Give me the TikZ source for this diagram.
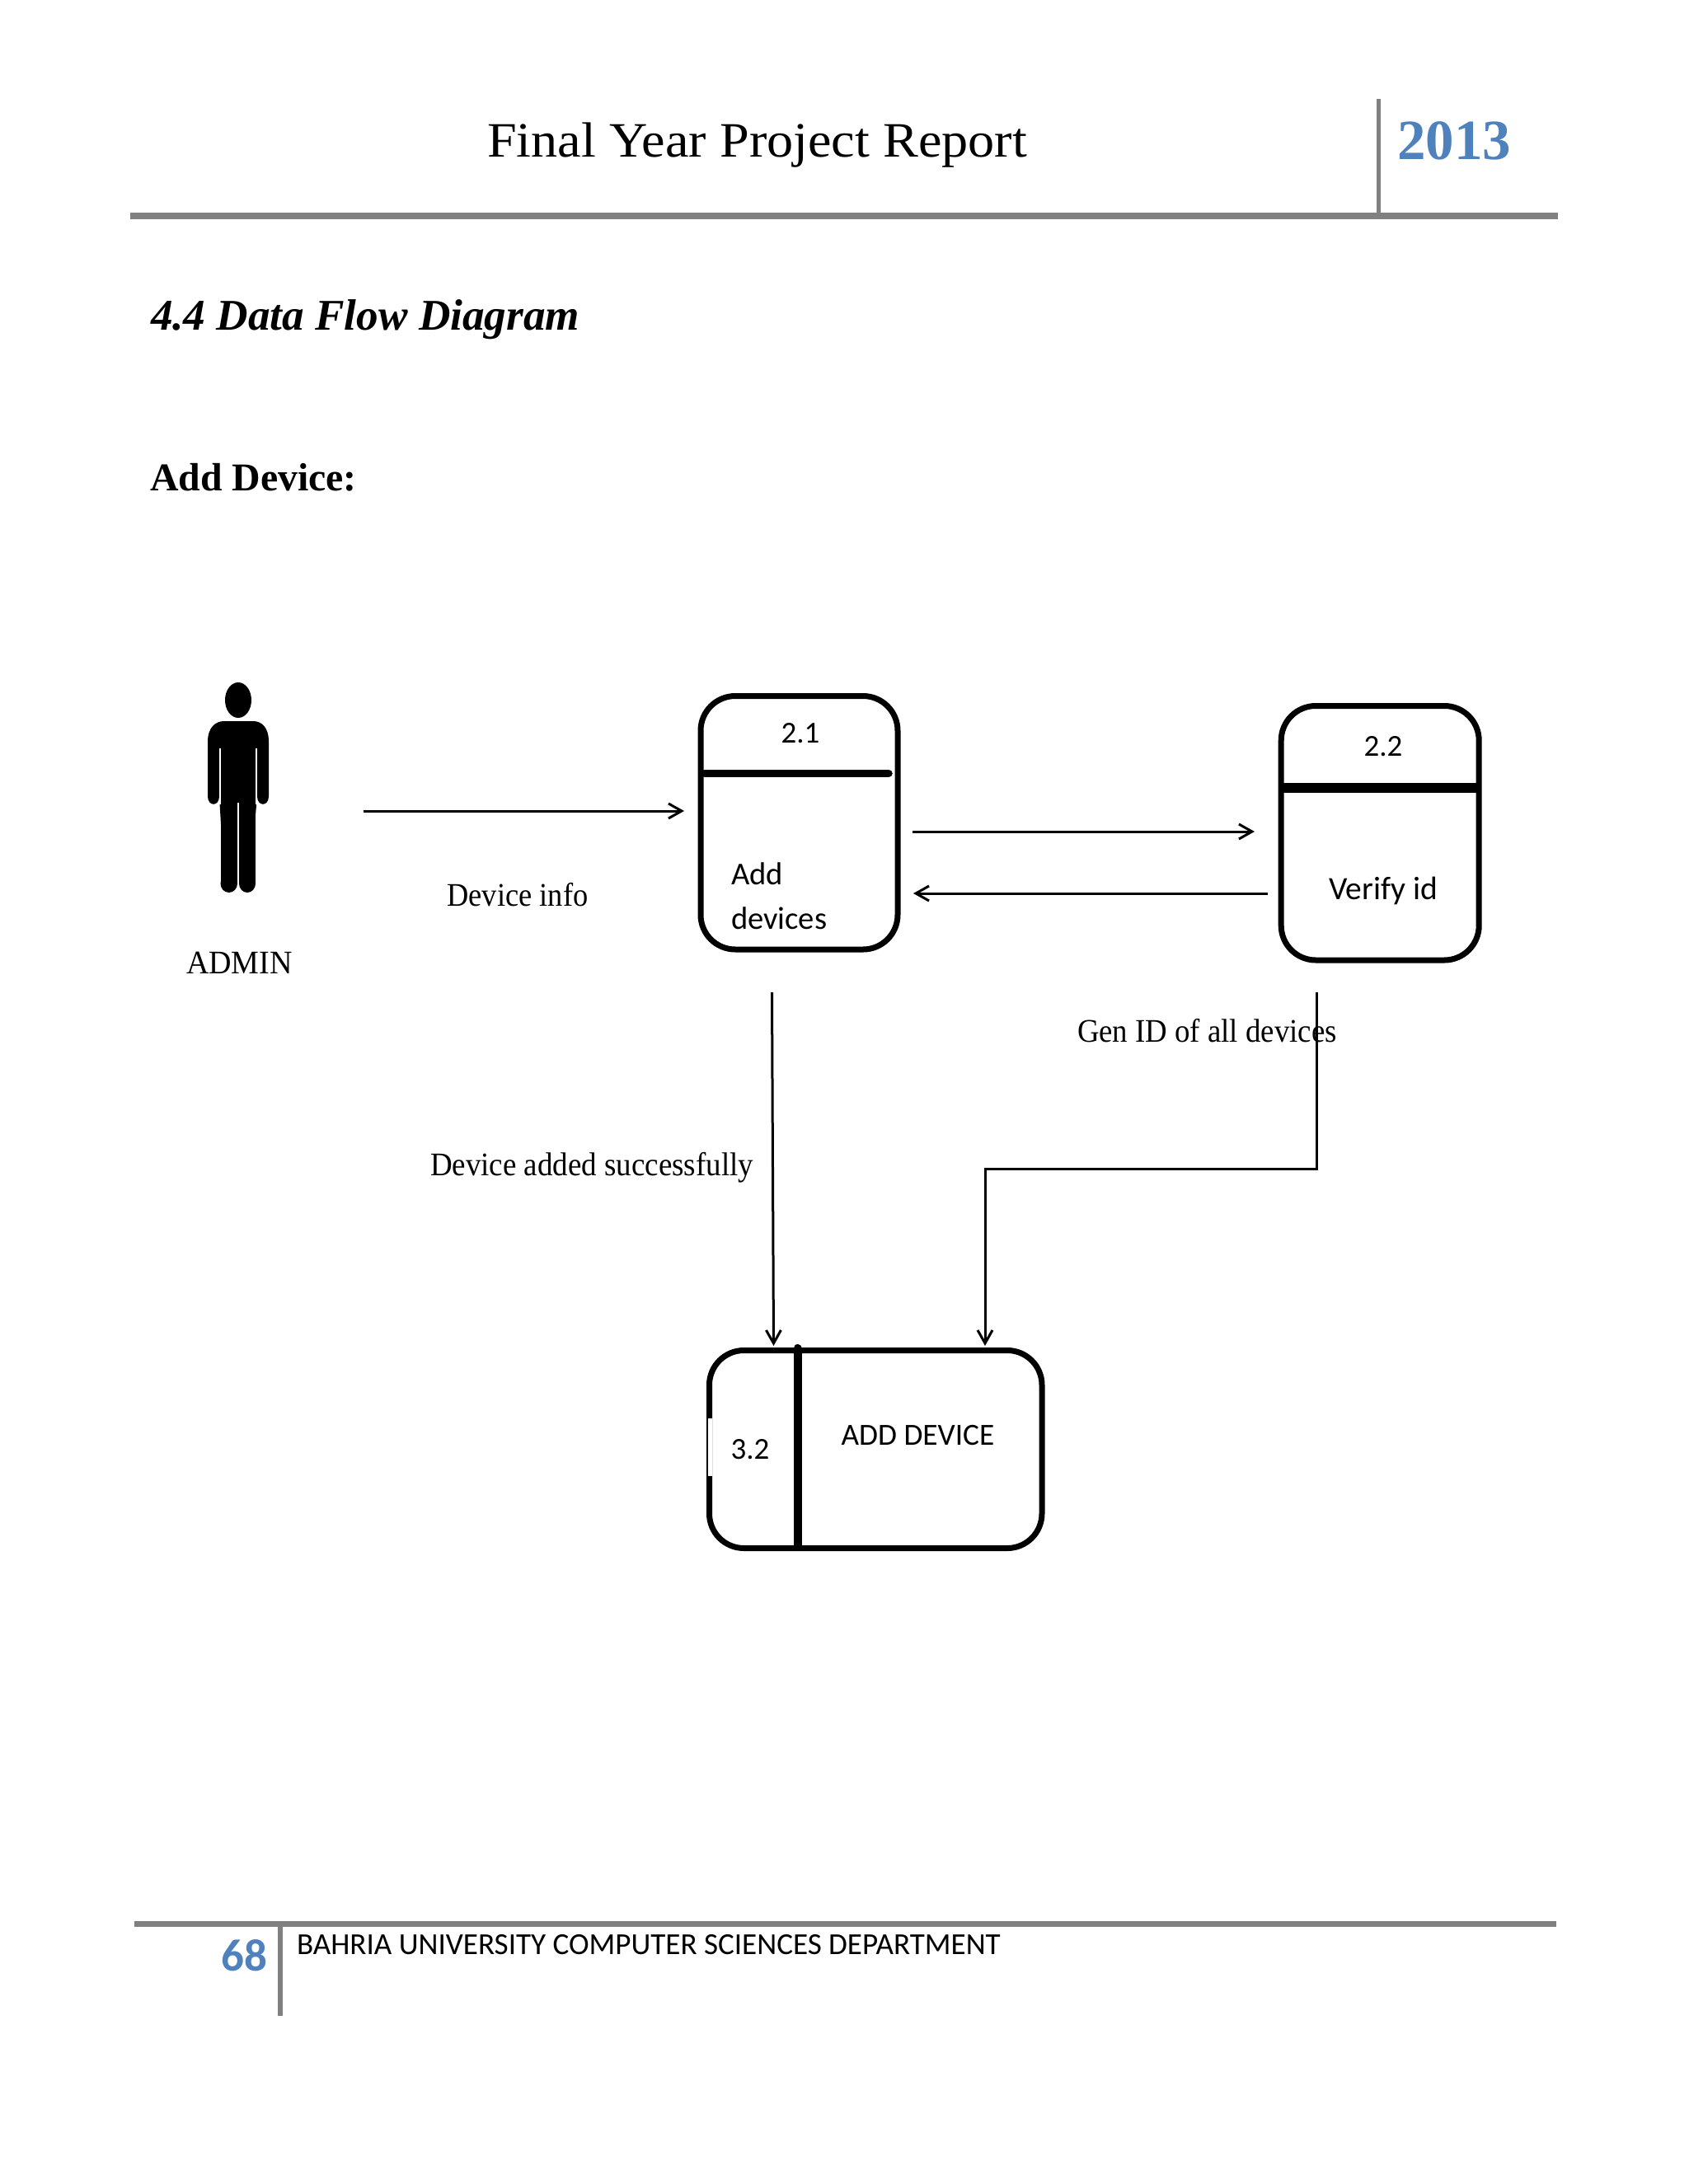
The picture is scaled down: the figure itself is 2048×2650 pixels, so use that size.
\documentclass[tikz,border=0pt]{standalone}
\usepackage{fontspec}
\setmainfont{Liberation Serif}
\newfontfamily\carl{Carlito}
\usetikzlibrary{arrows.meta}
\definecolor{rulegray}{RGB}{128,128,128}
\definecolor{accentblue}{RGB}{79,129,189}
\newcommand{\fs}[1]{\fontsize{#1}{#1}\selectfont}
\tikzset{
  x=1pt,y=-1pt,
  lbl/.style={anchor=base west,inner sep=0pt,outer sep=0pt,text=black},
  ctr/.style={anchor=base,inner sep=0pt,outer sep=0pt,text=black},
  procbox/.style={draw=black,line width=7pt,rounded corners=42pt,fill=white,inner sep=0pt,outer sep=0pt},
  divider/.style={draw=black,line cap=round},
  flow/.style={draw=black,line width=3pt,-{Straight Barb[length=16pt,width=18pt,line width=3pt]}},
  rulebar/.style={draw=rulegray},
}
\begin{document}
\begin{tikzpicture}
\useasboundingbox (0,0) rectangle (2048,2650);
\fill[white] (0,0) rectangle (2048,2650);
% header
\draw[rulebar,line width=8pt] (158,262) -- (1890,262);
\draw[rulebar,line width=5pt] (1672,120) -- (1672,262);
\node[lbl] (title) at (591,190.5) {\scalebox{1.07}[1]{\fs{60}Final Year Project Report}};
\node[lbl,text=accentblue] (year) at (1695,193) {\fs{69}\bfseries\color{accentblue}2013};
\node[lbl] (sect) at (183,400) {\fs{53.2}\bfseries\itshape 4.4 Data Flow Diagram};
\node[lbl] (sub) at (182,595.5) {\fs{47.8}\bfseries Add Device:};
% person
\fill[black] (289,849.5) ellipse [x radius=16,y radius=21.5];
\fill[black] (252,900) .. controls (252,882) and (262,875) .. (272,875) -- (307,875)
  .. controls (317,875) and (326,882) .. (326,900) -- (326,966)
  .. controls (326,979) and (312,979) .. (312,966) -- (309,1000) -- (268,1000) -- (266,966)
  .. controls (266,979) and (252,979) .. (252,966) -- cycle;
\fill[black] (267.5,960) rectangle (288,1072);
\fill[black] (290,960) rectangle (310,1072);
\fill[black] (277.75,1072) ellipse [x radius=10.25,y radius=11];
\fill[black] (300,1072) ellipse [x radius=10,y radius=11];
\fill[white] (266,908) rectangle (268,976);
\fill[white] (310,908) rectangle (312,976);
\fill[white] (288,974) rectangle (290,1076);
\node[ctr] (admin) at (290.5,1181) {\scalebox{.95}[1]{\fs{40}ADMIN}};
% process boxes
\node[procbox,minimum width=239pt,minimum height=307.5pt] (p21) at (969.5,998.25) {};
\node[procbox,minimum width=240pt,minimum height=308.5pt] (p22) at (1674.2,1010.75) {};
\node[procbox,minimum width=403.5pt,minimum height=240pt] (p32) at (1062.25,1758.5) {};
\draw[divider,line width=9.5pt] (855,938.5) -- (1078,938.5);
\draw[draw=black,line width=12pt] (1554,956) -- (1794,956);
\fill[white] (859,1721) rectangle (864,1791);
\draw[divider,line width=10pt] (967.5,1636) -- (967.5,1876);
% box text
\node[ctr] (t21) at (971,901) {\carl\fs{37}2.1};
\node[lbl] (t21a) at (887,1073.5) {\carl\fs{38.6}Add};
\node[lbl] (t21b) at (887,1127) {\carl\fs{38.6}devices};
\node[ctr] (t22) at (1678,917) {\carl\fs{37}2.2};
\node[ctr] (t22a) at (1678,1091) {\carl\fs{39.5}Verify id};
\node[ctr] (t32) at (910,1770) {\carl\fs{37}3.2};
\node[ctr] (t32a) at (1113.5,1753) {\carl\fs{37.3}ADD DEVICE};
% connector ends
\coordinate (infoS) at (440.5,984);
\coordinate (infoE) at (830,984);
\coordinate (reqS) at (1107,1009);
\coordinate (reqE) at (1522,1009);
\coordinate (repS) at (1538,1084);
\coordinate (repE) at (1108,1084);
\coordinate (addS) at (936.5,1204);
\coordinate (addE) at (938.5,1633);
\coordinate (genS) at (1597,1204);
\coordinate (genE) at (1195,1633);
\draw[flow] (infoS) -- (infoE);
\draw[flow] (reqS) -- (reqE);
\draw[flow] (repS) -- (repE);
\draw[flow] (addS) -- (addE);
\draw[flow] (genS) |- (1195,1418) -- (genE);
% flow labels
\node[lbl] (l1) at (542.5,1099) {\scalebox{.91}[1]{\fs{40}Device info}};
\node[lbl] (l2) at (522,1426.5) {\scalebox{.924}[1]{\fs{40}Device added successfully}};
\node[lbl] (l3) at (1307,1264) {\scalebox{.92}[1]{\fs{40}Gen ID of all devices}};
% footer
\draw[rulebar,line width=7pt] (163,2334) -- (1888,2334);
\draw[rulebar,line width=6pt] (340,2334) -- (340,2446);
\node[lbl] (pg) at (268.5,2391) {\carl\fs{55}\bfseries\color{accentblue}68};
\node[lbl] (foot) at (360,2371) {\carl\fs{37.1}BAHRIA UNIVERSITY COMPUTER SCIENCES DEPARTMENT};
\end{tikzpicture}
\end{document}
